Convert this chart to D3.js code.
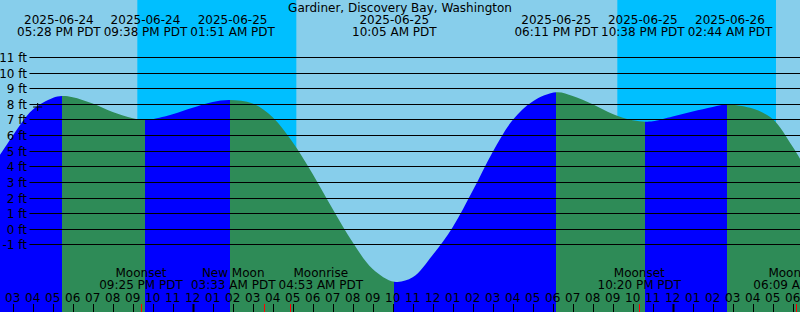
<!DOCTYPE html>
<html>
<head>
<meta charset="utf-8">
<script src="https://cdn.jsdelivr.net/npm/d3@7"></script>
<style>
  body { margin: 0; background: #87ceeb; }
  svg { display: block; font-family: "DejaVu Sans", sans-serif; font-size: 12px; }
</style>
</head>
<body>
<div id="chart"></div>
<script>
const stationName = "Gardiner, Discovery Bay, Washington";
const timeRange = ["2025-06-24 14:22", "2025-06-26 06:22"];

// tide heights (ft), hourly plus the turning points
const sampleTimes = [
  "2025-06-24 14:00", "2025-06-24 15:00", "2025-06-24 16:00", "2025-06-24 17:00",
  "2025-06-24 17:28", "2025-06-24 18:00", "2025-06-24 19:00", "2025-06-24 20:00",
  "2025-06-24 21:00", "2025-06-24 21:38", "2025-06-24 22:00", "2025-06-24 23:00",
  "2025-06-25 00:00", "2025-06-25 01:00", "2025-06-25 01:51",
  "2025-06-25 03:00", "2025-06-25 04:00", "2025-06-25 05:00", "2025-06-25 06:00",
  "2025-06-25 07:00", "2025-06-25 08:00", "2025-06-25 09:00",
  "2025-06-25 10:05", "2025-06-25 11:00", "2025-06-25 12:00", "2025-06-25 13:00",
  "2025-06-25 14:00", "2025-06-25 15:00", "2025-06-25 16:00", "2025-06-25 17:00",
  "2025-06-25 18:11", "2025-06-25 19:00", "2025-06-25 20:00",
  "2025-06-25 21:00", "2025-06-25 22:00", "2025-06-25 22:38", "2025-06-25 23:00",
  "2025-06-26 00:00", "2025-06-26 01:00", "2025-06-26 02:00", "2025-06-26 02:44",
  "2025-06-26 03:00", "2025-06-26 04:00", "2025-06-26 05:00", "2025-06-26 06:00",
  "2025-06-26 06:30"
];
const sampleHeights = [
  4.0, 5.95, 7.62, 8.38,
  8.5, 8.43, 8.03, 7.48,
  7.08, 6.97, 7.02, 7.33,
  7.75, 8.12, 8.25,
  8.03, 7.15, 5.54, 3.51,
  1.26, -0.87, -2.58,
  -3.4, -3.12, -1.69, 0.1,
  2.43, 4.92, 6.97, 8.16,
  8.74, 8.5, 7.98,
  7.36, 6.95, 6.86, 6.88,
  7.19, 7.51, 7.8, 7.97,
  7.95, 7.7, 7.03, 5.25,
  4.2
];

// high and low tides
const tideTimes = ["2025-06-24 17:28", "2025-06-24 21:38", "2025-06-25 01:51", "2025-06-25 10:05",
                   "2025-06-25 18:11", "2025-06-25 22:38", "2025-06-26 02:44"];
const tideKinds = ["high", "low", "high", "low", "high", "low", "high"];

// sunset / sunrise
const sunTimes = ["2025-06-24 21:14", "2025-06-25 05:11", "2025-06-25 21:14", "2025-06-26 05:10"];
const sunKinds = ["set", "rise", "set", "rise"];

// moon events
const moonTimes = ["2025-06-24 21:25", "2025-06-25 03:33", "2025-06-25 04:53", "2025-06-25 22:20", "2025-06-26 06:09"];
const moonNames = ["Moonset", "New Moon", "Moonrise", "Moonset", "Moonrise"];

const footTicks = [-1, 0, 1, 2, 3, 4, 5, 6, 7, 8, 9, 10, 11];

const nowTime = "2025-06-24 16:15";
const nowHeight = 7.8;

const colors = { day: "#87ceeb", night: "#00bfff", flood: "#0000ff", ebb: "#2e8b57", mark: "#ff0000" };

const width = 800, height = 312;
const parse = d3.timeParse("%Y-%m-%d %H:%M");

const x = d3.scaleTime()
  .domain(timeRange.map(parse))
  .range([0, width]);

const y = d3.scaleLinear()
  .domain([-5, 12])
  .range([306.7, 41.5]);

const svg = d3.select("#chart").append("svg")
  .attr("width", width)
  .attr("height", height);

svg.append("rect")
  .attr("width", width).attr("height", height)
  .attr("fill", colors.day);

// night bands
const nights = [];
for (let i = 0; i < sunTimes.length; i++) {
  if (sunKinds[i] === "set") {
    nights.push([parse(sunTimes[i]), i + 1 < sunTimes.length ? parse(sunTimes[i + 1]) : x.domain()[1]]);
  }
}
svg.selectAll(".night")
  .data(nights)
  .enter().append("rect")
    .attr("class", "night")
    .attr("x", d => x(d[0]))
    .attr("y", 0)
    .attr("width", d => x(d[1]) - x(d[0]))
    .attr("height", height)
    .attr("fill", colors.night);

// tide area, coloured flood / ebb between highs and lows
const samples = sampleTimes.map((t, i) => ({ t: parse(t), h: sampleHeights[i] }));

const area = d3.area()
  .curve(d3.curveCatmullRom.alpha(0.5))
  .x(d => x(d.t))
  .y0(height)
  .y1(d => y(d.h));

svg.append("clipPath")
  .attr("id", "tideClip")
  .append("path")
    .attr("d", area(samples));

const bounds = [x.domain()[0]].concat(tideTimes.map(parse), [x.domain()[1]]);
const segments = [];
for (let i = 0; i < bounds.length - 1; i++) {
  const nextKind = i < tideKinds.length ? tideKinds[i] : (tideKinds[i - 1] === "high" ? "low" : "high");
  segments.push({ a: bounds[i], b: bounds[i + 1], rising: nextKind === "high" });
}

svg.append("g")
  .attr("clip-path", "url(#tideClip)")
  .selectAll("rect")
  .data(segments)
  .enter().append("rect")
    .attr("x", d => x(d.a))
    .attr("y", 0)
    .attr("width", d => x(d.b) - x(d.a))
    .attr("height", height)
    .attr("fill", d => d.rising ? colors.flood : colors.ebb)
    .attr("shape-rendering", "crispEdges");

// foot lines
const grid = svg.append("g");
grid.selectAll("line")
  .data(footTicks)
  .enter().append("line")
    .attr("x1", 29.5)
    .attr("x2", width)
    .attr("y1", d => Math.round(y(d)) + 0.5)
    .attr("y2", d => Math.round(y(d)) + 0.5)
    .attr("stroke", "#000")
    .attr("stroke-width", 1);

grid.selectAll("text")
  .data(footTicks)
  .enter().append("text")
    .attr("x", 27)
    .attr("y", d => Math.round(y(d)) + 4.5)
    .attr("text-anchor", "end")
    .text(d => (d < 0 ? "-" + Math.abs(d) : d) + " ft");

// current time mark
const nx = x(parse(nowTime)), ny = y(nowHeight);
svg.append("path")
  .attr("d", `M${nx - 4.5},${ny}H${nx + 4.5}M${nx},${ny - 4}V${ny + 4}`)
  .attr("stroke", "#000")
  .attr("fill", "none");

// spread labels so they do not overlap
function spread(items, gap) {
  for (let k = 0; k < 60; k++) {
    let moved = false;
    for (let i = 0; i < items.length - 1; i++) {
      const a = items[i], b = items[i + 1];
      const need = (a.w + b.w) / 2 + gap;
      const d = b.cx - a.cx;
      if (d < need - 0.01) {
        const s = (need - d) / 2;
        a.cx -= s; b.cx += s;
        moved = true;
      }
    }
    if (!moved) break;
  }
}

const fmtDate = d3.timeFormat("%Y-%m-%d");
const fmtTime = d => d3.timeFormat("%I:%M %p")(d) + " PDT";

// tide labels at the top
const topLabels = tideTimes.map(t => {
  const d = parse(t);
  return { cx: x(d), l1: fmtDate(d), l2: fmtTime(d) };
});
const topSel = svg.append("g").attr("text-anchor", "middle")
  .selectAll("g")
  .data(topLabels)
  .enter().append("g");
topSel.append("text").attr("y", 24).text(d => d.l1);
topSel.append("text").attr("y", 36).text(d => d.l2);
topSel.each(function(d) {
  d.w = d3.max(d3.select(this).selectAll("text").nodes(), n => n.getComputedTextLength());
});
spread(topLabels, 3);
topSel.selectAll("text").attr("x", function() { return d3.select(this.parentNode).datum().cx; });

svg.append("text")
  .attr("x", width / 2)
  .attr("y", 12)
  .attr("text-anchor", "middle")
  .text(stationName);

// moon labels at the bottom
const moonLabels = moonTimes.map((t, i) => {
  const d = parse(t);
  return { cx: x(d), t: d, l1: moonNames[i], l2: fmtTime(d) };
});
const botSel = svg.append("g").attr("text-anchor", "middle")
  .selectAll("g")
  .data(moonLabels)
  .enter().append("g");
botSel.append("text").attr("y", 277).text(d => d.l1);
botSel.append("text").attr("y", 289).text(d => d.l2);
botSel.each(function(d) {
  d.w = d3.max(d3.select(this).selectAll("text").nodes(), n => n.getComputedTextLength());
});
spread(moonLabels, 3);
botSel.selectAll("text").attr("x", function() { return d3.select(this.parentNode).datum().cx; });

// hour ticks
const hours = d3.timeHour.range(x.domain()[0], x.domain()[1]);
const hourG = svg.append("g");
hourG.selectAll("text")
  .data(hours)
  .enter().append("text")
    .attr("x", d => x(d))
    .attr("y", 302)
    .attr("text-anchor", "middle")
    .text(d3.timeFormat("%I"));

hourG.selectAll("line.hour")
  .data(hours)
  .enter().append("line")
    .attr("class", "hour")
    .attr("x1", d => Math.round(x(d)) + 0.5)
    .attr("x2", d => Math.round(x(d)) + 0.5)
    .attr("y1", 304)
    .attr("y2", height)
    .attr("stroke", "#000")
    .attr("stroke-width", d => d.getHours() === 0 ? 2 : 1);

hourG.selectAll("line.moon")
  .data(moonLabels)
  .enter().append("line")
    .attr("class", "moon")
    .attr("x1", d => Math.round(x(d.t)) + 0.5)
    .attr("x2", d => Math.round(x(d.t)) + 0.5)
    .attr("y1", 304)
    .attr("y2", height)
    .attr("stroke", colors.mark);
</script>
</body>
</html>
